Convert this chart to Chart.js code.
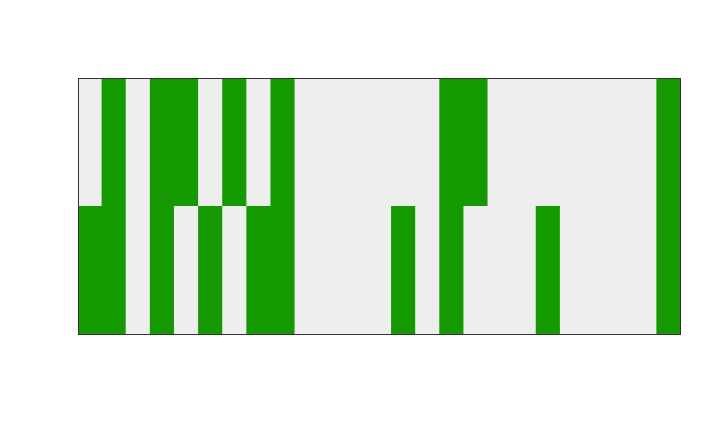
<!DOCTYPE html>
<html>
<head>
<meta charset="utf-8">
<script src="https://cdn.jsdelivr.net/npm/chart.js@4"></script>
<style>
html,body{margin:0;padding:0;background:#fff;}
#wrap{width:720px;height:432px;}
</style>
</head>
<body>
<div id="wrap"><canvas id="c" width="720" height="432"></canvas></div>
<script>
// 25 columns, two rows (1 = filled, 0 = empty)
const columns = Array.from({length: 25}, (_, i) => String(i + 1));
const topRow    = [0,1,0,1,1,0,1,0,1,0,0,0,0,0,0,1,1,0,0,0,0,0,0,0,1];
const bottomRow = [1,1,0,1,0,1,0,1,1,0,0,0,0,1,0,1,0,0,0,1,0,0,0,0,1];

const ON = '#149A00', OFF = '#EEEEEE';
const ones = columns.map(() => 1);

const frame = {
  id: 'frame',
  afterDatasetsDraw(chart) {
    const {ctx, chartArea: a} = chart;
    ctx.save();
    ctx.strokeStyle = '#333333';
    ctx.lineWidth = 1;
    ctx.strokeRect(Math.round(a.left) + 0.5, Math.round(a.top) + 0.5,
                   Math.round(a.right - a.left) - 1, Math.round(a.bottom - a.top) - 1);
    ctx.restore();
  }
};

new Chart(document.getElementById('c'), {
  type: 'bar',
  data: {
    labels: columns,
    datasets: [
      { label: 'bottom', data: ones, backgroundColor: bottomRow.map(v => v ? ON : OFF),
        borderWidth: 0, barPercentage: 1, categoryPercentage: 1, inflateAmount: 0.5 },
      { label: 'top', data: ones, backgroundColor: topRow.map(v => v ? ON : OFF),
        borderWidth: 0, barPercentage: 1, categoryPercentage: 1, inflateAmount: 0.5 }
    ]
  },
  options: {
    responsive: false,
    animation: false,
    layout: { padding: { left: 78, right: 39, top: 78, bottom: 97 } },
    plugins: { legend: { display: false }, tooltip: { enabled: false } },
    scales: {
      x: { display: false, stacked: true },
      y: { display: false, stacked: true, min: 0, max: 2 }
    }
  },
  plugins: [frame]
});
</script>
</body>
</html>
